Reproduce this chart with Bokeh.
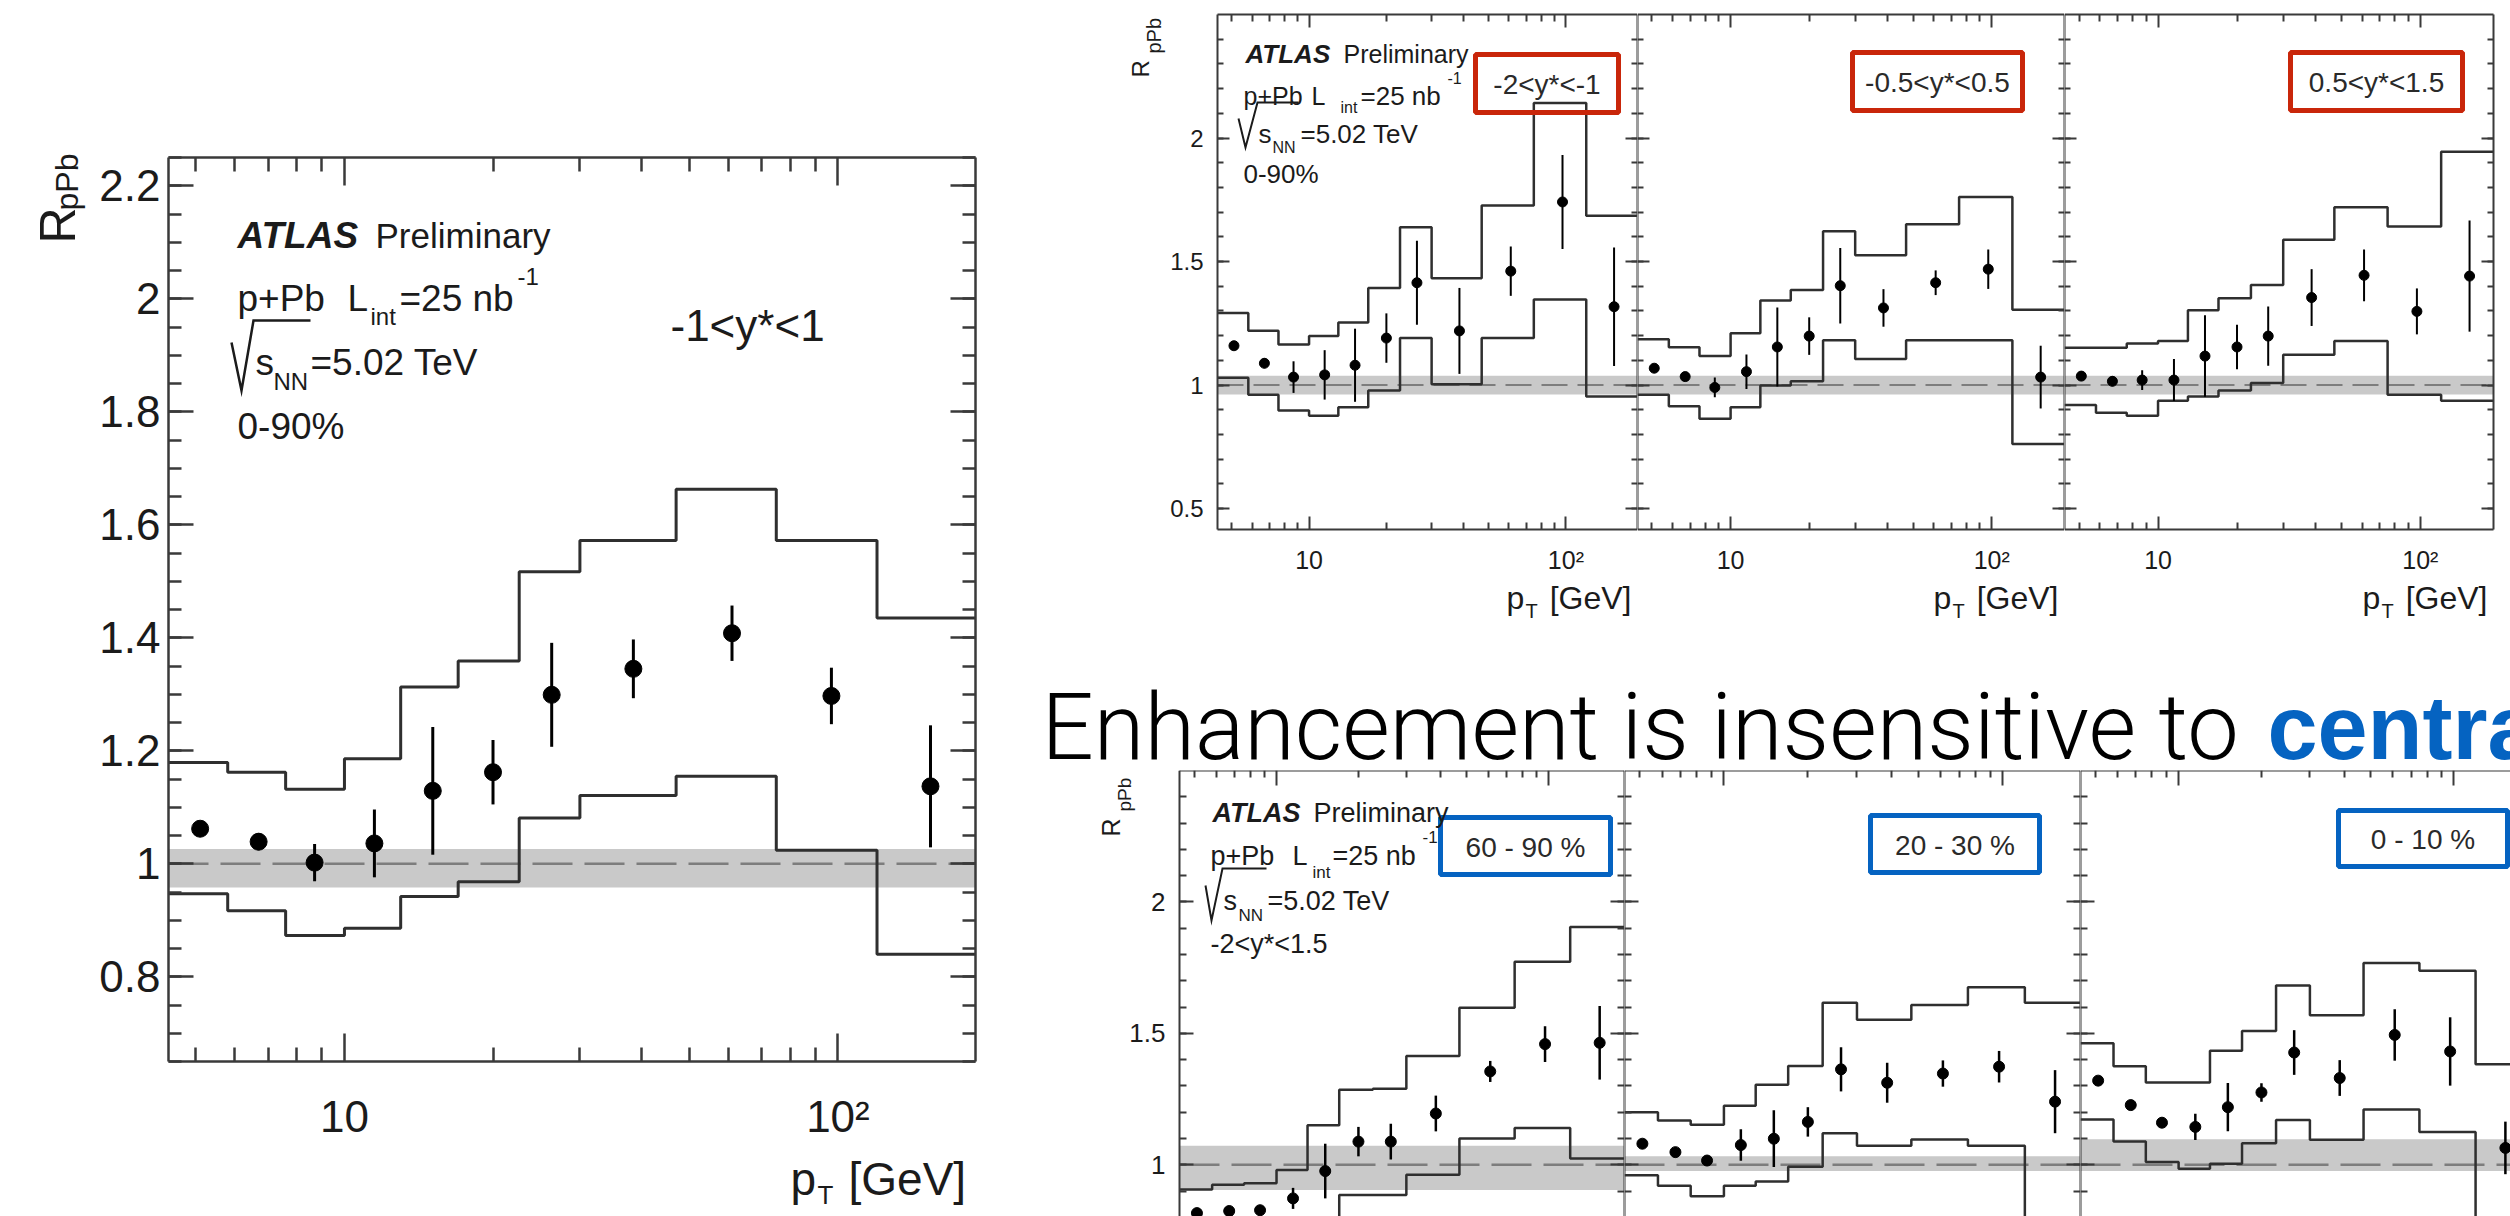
import numpy as np
from bokeh.plotting import figure
from bokeh.layouts import row, column
from bokeh.models import (FixedTicker, LinearAxis, LogAxis, Label, BoxAnnotation,
                          Range1d, CustomJSTickFormatter)
from bokeh.embed import file_html
from bokeh.resources import INLINE

# ---------------- pT binning shared by every panel ----------------
pt_edges = [4.4, 5.8, 7.6, 10.0, 13.0, 17.0, 22.6, 30.0, 47.0, 75.0, 120.0, 190.0]
pt_centres = [5.1, 6.7, 8.7, 11.5, 15.1, 20.0, 26.3, 38.5, 61.0, 97.0, 154.0]

# ---------------- -1 < y* < 1, 0-90 % ----------------
mid_r = [1.062, 1.039, 1.002, 1.036, 1.129, 1.162, 1.299, 1.345, 1.408, 1.297, 1.137]
mid_stat = [0.008, 0.015, 0.033, 0.060, 0.113, 0.057, 0.092, 0.052, 0.049, 0.050, 0.108]
mid_sys_hi = [1.179, 1.162, 1.132, 1.186, 1.313, 1.359, 1.517, 1.572, 1.663, 1.572, 1.435]
mid_sys_lo = [0.947, 0.917, 0.873, 0.886, 0.942, 0.968, 1.081, 1.121, 1.155, 1.024, 0.840]
mid_norm = [0.958, 1.026]

# ---------------- rapidity bins, 0-90 % ----------------
ya_r = [1.159, 1.088, 1.032, 1.041, 1.080, 1.190, 1.414, 1.219, 1.461, 1.741, 1.317]
ya_stat = [0.010, 0.020, 0.064, 0.100, 0.148, 0.100, 0.170, 0.174, 0.100, 0.190, 0.240]
ya_sys_hi = [1.292, 1.220, 1.164, 1.198, 1.253, 1.393, 1.639, 1.432, 1.727, 2.142, 1.685]
ya_sys_lo = [1.029, 0.961, 0.897, 0.876, 0.910, 0.978, 1.190, 1.003, 1.190, 1.346, 0.953]

yb_r = [1.068, 1.034, 0.990, 1.054, 1.154, 1.198, 1.402, 1.312, 1.414, 1.469, 1.032]
yb_stat = [0.010, 0.012, 0.040, 0.070, 0.160, 0.076, 0.153, 0.076, 0.050, 0.080, 0.127]
yb_sys_hi = [1.185, 1.153, 1.117, 1.210, 1.342, 1.385, 1.622, 1.525, 1.651, 1.761, 1.305]
yb_sys_lo = [0.961, 0.914, 0.863, 0.910, 0.998, 1.015, 1.181, 1.105, 1.181, 1.181, 0.761]

yc_r = [1.036, 1.015, 1.020, 1.020, 1.117, 1.154, 1.198, 1.354, 1.444, 1.298, 1.441]
yc_stat = [0.012, 0.020, 0.040, 0.085, 0.165, 0.090, 0.120, 0.115, 0.105, 0.093, 0.225]
yc_sys_hi = [1.151, 1.151, 1.168, 1.178, 1.303, 1.351, 1.405, 1.588, 1.720, 1.642, 1.944]
yc_sys_lo = [0.919, 0.888, 0.876, 0.936, 0.953, 0.978, 1.008, 1.122, 1.178, 0.961, 0.936]

rap_norm = [0.962, 1.037]
rap_labels = ["-2<y*<-1", "-0.5<y*<0.5", "0.5<y*<1.5"]

# ---------------- centrality bins, -2 < y* < 1.5 ----------------
c6090_r = [0.816, 0.824, 0.827, 0.872, 0.976, 1.088, 1.088, 1.195, 1.355, 1.459, 1.464]
c6090_stat = [0.010, 0.010, 0.010, 0.040, 0.104, 0.056, 0.068, 0.068, 0.040, 0.068, 0.140]
c6090_sys_hi = [0.906, 0.924, 0.930, 0.980, 1.150, 1.285, 1.289, 1.414, 1.597, 1.772, 1.905]
c6090_sys_lo = [0.700, 0.710, 0.720, 0.760, 0.800, 0.885, 0.885, 0.962, 1.100, 1.140, 1.024]
c6090_norm = [0.904, 1.072]

c2030_r = [1.080, 1.048, 1.016, 1.075, 1.099, 1.163, 1.363, 1.312, 1.347, 1.373, 1.240]
c2030_stat = [0.010, 0.010, 0.012, 0.060, 0.108, 0.056, 0.084, 0.076, 0.050, 0.060, 0.120]
c2030_sys_hi = [1.200, 1.168, 1.152, 1.224, 1.304, 1.376, 1.616, 1.552, 1.608, 1.675, 1.616]
c2030_sys_lo = [0.960, 0.920, 0.880, 0.920, 0.936, 0.992, 1.120, 1.072, 1.096, 1.072, 0.750]
c2030_norm = [0.976, 1.032]

c010_r = [1.320, 1.227, 1.160, 1.144, 1.219, 1.275, 1.427, 1.330, 1.494, 1.431, 1.064]
c010_stat = [0.010, 0.012, 0.020, 0.050, 0.092, 0.035, 0.085, 0.068, 0.098, 0.130, 0.100]
c010_sys_hi = [1.462, 1.375, 1.313, 1.313, 1.434, 1.509, 1.682, 1.569, 1.768, 1.738, 1.382]
c010_sys_lo = [1.172, 1.088, 1.010, 0.985, 1.004, 1.082, 1.170, 1.095, 1.210, 1.125, 0.750]
c010_norm = [0.976, 1.097]

cent_labels = ["60 - 90 %", "20 - 30 %", "0 - 10 %"]

# ---------------- styling ----------------
FONT = "Liberation Sans"
INK = "#1b1b1b"
FRAME = "#3a3a3a"
HIST = "#2f2f2f"
BAND = "#c9c9c9"
DASH = "#7d7d7d"
RED = "#c9260a"
BLUE = "#0563c1"
X_RANGE = (4.4, 190.0)
X_MAJOR = [10, 100]
X_MINOR = [5, 6, 7, 8, 9, 20, 30, 40, 50, 60, 70, 80, 90]
LOG_FMT = "return tick >= 100 ? '10\u00b2' : String(tick);"
LIN_FMT = "return String(Math.round(tick * 100) / 100);"


def steps(edges, vals):
    e = np.asarray(edges, float)
    v = np.asarray(vals, float)
    return np.repeat(e, 2)[1:-1], np.repeat(v, 2)


class Pane:
    """One canvas whose whole area is the plotting frame.

    canvas = (left, top, width, height) on the page; box = the drawn axes box
    on the page, which carries the data ranges xr / yr.
    """

    def __init__(self, canvas, box, xr, yr, logx=True):
        cl, ct, cw, ch = canvas
        bl, bt, bw, bh = box
        self.logx = logx
        self.xr, self.yr = xr, yr
        if logx:
            a, b = np.log10(xr[0]), np.log10(xr[1])
        else:
            a, b = xr
        kx = (b - a) / bw
        ky = (yr[1] - yr[0]) / bh
        ca = a - (bl - cl) * kx
        cb = a + (cl + cw - bl) * kx
        self.ca, self.cb = ca, cb
        self.cl, self.ct, self.cw, self.ch = cl, ct, cw, ch
        y_top = yr[1] + (bt - ct) * ky
        y_bot = yr[1] - (ct + ch - bt) * ky
        self.yt, self.yb = y_top, y_bot
        xrng = Range1d(10 ** ca, 10 ** cb) if logx else Range1d(ca, cb)
        p = figure(x_axis_type="log" if logx else "linear",
                   x_range=xrng, y_range=Range1d(y_bot, y_top),
                   frame_width=cw, frame_height=ch, min_border=0,
                   min_border_left=0, min_border_right=0,
                   min_border_top=0, min_border_bottom=0,
                   toolbar_location=None, output_backend="svg", title=None,
                   x_axis_location=None, y_axis_location=None)
        p.background_fill_color = "white"
        p.border_fill_color = "white"
        p.outline_line_color = None
        p.xgrid.visible = False
        p.ygrid.visible = False
        self.fig = p

    def X(self, px):
        v = self.ca + (px - self.cl) / self.cw * (self.cb - self.ca)
        return float(10 ** v) if self.logx else float(v)

    def Y(self, py):
        return float(self.yt - (py - self.ct) / self.ch * (self.yt - self.yb))

    def text(self, px, py, s, size, style="normal", align="left", baseline="alphabetic",
             color=INK, angle=0.0, font=FONT):
        self.fig.add_layout(Label(x=self.X(px), y=self.Y(py), text=s, text_font=font,
                                  text_font_size=f"{size}px", text_font_style=style,
                                  text_align=align, text_baseline=baseline,
                                  text_color=color, angle=angle, level="overlay"))

    def radical(self, pts, width):
        """Square-root sign drawn as a stroke, ROOT style."""
        self.fig.line([self.X(x) for x, _ in pts], [self.Y(y) for _, y in pts],
                      line_color=INK, line_width=width, line_join="miter")

    def box(self, px0, py0, px1, py1, s, color, size):
        self.fig.add_layout(BoxAnnotation(left=self.X(px0), right=self.X(px1),
                                          top=self.Y(py0), bottom=self.Y(py1),
                                          fill_alpha=0, line_color=color, line_alpha=1.0,
                                          line_width=5, level="overlay"))
        self.text((px0 + px1) / 2, (py0 + py1) / 2 + 1, s, size, align="center",
                  baseline="middle", color="#2a2a2a")

    def axis(self, side, ticks, minor, major_len, minor_len, lw, label_size=None, standoff=0):
        xlo, xhi = self.xr
        ylo, yhi = self.yr
        if side in ("below", "above"):
            ax = LogAxis(ticker=FixedTicker(ticks=ticks, minor_ticks=minor),
                         fixed_location=ylo if side == "below" else yhi, bounds=(xlo, xhi))
            fmt = LOG_FMT
        else:
            ax = LinearAxis(ticker=FixedTicker(ticks=ticks, minor_ticks=minor),
                            fixed_location=xlo if side == "left" else xhi, bounds=(ylo, yhi))
            fmt = LIN_FMT
        ax.major_tick_in = major_len
        ax.major_tick_out = 0
        ax.minor_tick_in = minor_len
        ax.minor_tick_out = 0
        for attr in ("axis_line", "major_tick_line", "minor_tick_line"):
            setattr(ax, attr + "_color", FRAME)
            setattr(ax, attr + "_width", lw)
        if label_size:
            ax.formatter = CustomJSTickFormatter(code=fmt)
            ax.major_label_text_font = FONT
            ax.major_label_text_font_size = f"{label_size}px"
            ax.major_label_text_color = INK
            ax.major_label_standoff = standoff
        else:
            ax.major_label_text_font_size = "0px"
            ax.major_label_text_alpha = 0
            ax.major_label_standoff = 0
        self.fig.add_layout(ax, side)

    def data(self, r, stat, hi, lo, norm, ms, lw_hist, lw_err, dash, dash_w):
        p = self.fig
        xlo, xhi = self.xr
        p.add_layout(BoxAnnotation(left=xlo, right=xhi, bottom=norm[0], top=norm[1],
                                   fill_color=BAND, fill_alpha=1.0, line_color=None,
                                   level="underlay"))
        p.line([xlo, xhi], [1.0, 1.0], line_color=DASH, line_width=dash_w, line_dash=dash)
        for band in (hi, lo):
            xs, ys = steps(pt_edges, band)
            p.line(xs, ys, line_color=HIST, line_width=lw_hist)
        r = np.asarray(r)
        s = np.asarray(stat)
        p.segment(x0=pt_centres, y0=r - s, x1=pt_centres, y1=r + s, line_color="black",
                  line_width=lw_err)
        p.scatter(pt_centres, r, size=ms, color="black")


# =============== large plot: -1 < y* < 1 ===============
L_YR = (0.65, 2.25)
L = Pane((0, 0, 1030, 1216), (168, 157, 807, 904), X_RANGE, L_YR)
l_major = [0.8, 1, 1.2, 1.4, 1.6, 1.8, 2, 2.2]
l_minor = np.round(np.arange(0.65, 2.2501, 0.05), 3).tolist()
L.data(mid_r, mid_stat, mid_sys_hi, mid_sys_lo, mid_norm, 17, 3, 3, "40 12", 2.5)
L.axis("left", l_major, l_minor, 25, 13, 2.5, 44, 8)
L.axis("right", l_major, l_minor, 25, 13, 2.5)
L.axis("below", X_MAJOR, X_MINOR, 28, 14, 2.5, 44, 30)
L.axis("above", X_MAJOR, X_MINOR, 28, 14, 2.5)

L.text(237, 235, "ATLAS", 37, style="bold italic")
L.text(375, 235, "Preliminary", 35)
L.text(237, 298, "p+Pb", 37)
L.text(347, 298, "L", 37)
L.text(370, 316, "int", 24)
L.text(399, 298, "=25 nb", 37)
L.text(517, 276, "-1", 24)
L.radical([(231, 342), (241, 390), (253, 320), (310, 320)], 2.5)
L.text(255, 362, "s", 37)
L.text(273, 381, "NN", 24)
L.text(310, 362, "=5.02 TeV", 37)
L.text(237, 426, "0-90%", 37)
L.text(670, 325, "-1<y*<1", 44)
L.text(57, 243, "R", 50, angle=np.pi / 2)
L.text(66, 210, "pPb", 32, angle=np.pi / 2)
L.text(790, 1178, "p", 46)
L.text(817, 1194, "T", 26)
L.text(848, 1178, "[GeV]", 46)

# =============== rapidity panels (top right) ===============
T_YR = (0.415, 2.5)
t_major = [0.5, 1, 1.5, 2]
t_minor = np.round(np.arange(0.5, 2.45, 0.1), 3).tolist()
t_geom = [((1030, 0, 607, 620), (1217, 14, 420, 515)),
          ((1637, 0, 427, 620), (1637, 14, 427, 515)),
          ((2064, 0, 446, 620), (2064, 14, 429, 515))]
t_data = [(ya_r, ya_stat, ya_sys_hi, ya_sys_lo),
          (yb_r, yb_stat, yb_sys_hi, yb_sys_lo),
          (yc_r, yc_stat, yc_sys_hi, yc_sys_lo)]
t_boxes = [(1475, 54, 1618, 112), (1852, 52, 2022, 110), (2290, 52, 2462, 110)]
top_panes = []
for i, ((canvas, box), d, bx, lab) in enumerate(zip(t_geom, t_data, t_boxes, rap_labels)):
    P = Pane(canvas, box, X_RANGE, T_YR)
    P.data(*d, rap_norm, 10, 2.5, 2, "26 10", 2)
    P.axis("left", t_major, t_minor, 12, 6, 2, 24 if i == 0 else None, 14)
    P.axis("right", t_major, t_minor, 12, 6, 2)
    P.axis("below", X_MAJOR, X_MINOR, 13, 7, 2, 25, 16)
    P.axis("above", X_MAJOR, X_MINOR, 13, 7, 2)
    P.box(*bx, lab, RED, 28)
    right = box[0] + box[2]
    P.text(right - 131, 597, "p", 32)
    P.text(right - 112, 610, "T", 20)
    P.text(right - 6, 597, "[GeV]", 32, align="right")
    top_panes.append(P)

T = top_panes[0]
T.text(1245, 53, "ATLAS", 26, style="bold italic")
T.text(1343, 53, "Preliminary", 25)
T.text(1243, 95, "p+Pb", 25)
T.text(1311, 95, "L", 25)
T.text(1340, 107, "int", 16)
T.text(1360, 95, "=25 nb", 26)
T.text(1447, 77, "-1", 16)
T.radical([(1238, 118), (1245, 147), (1257, 102), (1298, 102)], 2)
T.text(1258, 133, "s", 26)
T.text(1272, 147, "NN", 16)
T.text(1300, 133, "=5.02 TeV", 26)
T.text(1243, 173, "0-90%", 26)
T.text(1140, 77, "R", 24, angle=np.pi / 2)
T.text(1153, 53, "pPb", 20, angle=np.pi / 2)

# =============== headline ===============
H = Pane((1030, 620, 1480, 150), (1030, 620, 1480, 150), (0, 1480), (0, 150), logx=False)
H.text(1041, 727, "Enhancement is insensitive to", 92, color="black",
       font="Roboto Light, Liberation Sans")
H.text(2267, 727, "centrality", 90, style="bold", color=BLUE)

# =============== centrality panels (bottom right) ===============
B_YR = (0.415, 2.5)
b_major = [1, 1.5, 2]
b_minor = np.round(np.arange(0.5, 2.45, 0.1), 3).tolist()
b_geom = [((1030, 770, 594, 446), (1179, 770, 445, 548)),
          ((1624, 770, 456, 446), (1624, 770, 456, 548)),
          ((2080, 770, 430, 446), (2080, 770, 450, 548))]
b_data = [(c6090_r, c6090_stat, c6090_sys_hi, c6090_sys_lo, c6090_norm),
          (c2030_r, c2030_stat, c2030_sys_hi, c2030_sys_lo, c2030_norm),
          (c010_r, c010_stat, c010_sys_hi, c010_sys_lo, c010_norm)]
b_boxes = [(1440, 817, 1610, 874), (1870, 815, 2039, 872), (2338, 810, 2507, 866)]
bot_panes = []
for i, ((canvas, box), d, bx, lab) in enumerate(zip(b_geom, b_data, b_boxes, cent_labels)):
    P = Pane(canvas, box, X_RANGE, B_YR)
    P.data(*d, 11, 2.5, 2.5, "40 12", 2.5)
    P.axis("left", b_major, b_minor, 14, 7, 2, 26 if i == 0 else None, 14)
    if i < 2:
        P.axis("right", b_major, b_minor, 14, 7, 2)
    P.axis("above", X_MAJOR, X_MINOR, 15, 7, 2)
    P.box(*bx, lab, BLUE, 28)
    bot_panes.append(P)

B = bot_panes[0]
B.text(1212, 812, "ATLAS", 27, style="bold italic")
B.text(1313, 812, "Preliminary", 27)
B.text(1210, 855, "p+Pb", 27)
B.text(1292, 855, "L", 27)
B.text(1312, 872, "int", 17)
B.text(1332, 855, "=25 nb", 27)
B.text(1422, 836, "-1", 17)
B.radical([(1205, 885), (1211, 920), (1222, 868), (1266, 868)], 2)
B.text(1223, 900, "s", 27)
B.text(1238, 915, "NN", 17)
B.text(1267, 900, "=5.02 TeV", 27)
B.text(1210, 943, "-2<y*<1.5", 27)
B.text(1110, 836, "R", 25, angle=np.pi / 2)
B.text(1124, 811, "pPb", 19, angle=np.pi / 2)

layout = row(L.fig, column(row(*[P.fig for P in top_panes]), H.fig,
                           row(*[P.fig for P in bot_panes])))

open("out.html", "w").write(file_html(layout, INLINE))
